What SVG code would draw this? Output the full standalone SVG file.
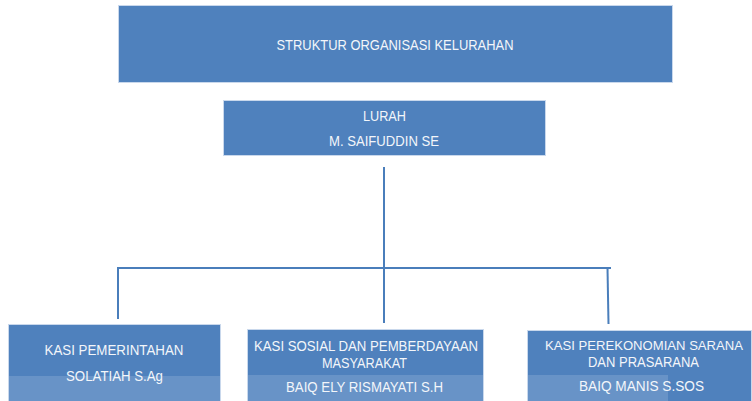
<svg xmlns="http://www.w3.org/2000/svg" width="752" height="401" viewBox="0 0 752 401">
<style>
.box{fill:#4F81BD;stroke:#C9D8EC;stroke-width:1}
.band{fill:#6893C7}
.t{font-family:"Liberation Sans",Arial,sans-serif;font-size:14px;fill:#F3F6FA;text-anchor:middle}
.c{stroke:#4A7EBB;stroke-width:2;fill:none}
</style>
<rect width="752" height="401" fill="#FFFFFF"/>
<g id="connectors">
<path class="c" d="M384 167 V323"/>
<path class="c" d="M118 319 V268 H611"/>
<path class="c" d="M607.5 268 L608.5 324"/>
</g>
<g id="title">
<rect class="box" x="118.5" y="5.5" width="554" height="77"/>
<text class="t" x="395" y="50" textLength="237" lengthAdjust="spacingAndGlyphs" style="font-size:14.5px">STRUKTUR ORGANISASI KELURAHAN</text>
</g>
<g id="lurah">
<rect class="box" x="223.5" y="100.5" width="322" height="55"/>
<text class="t" x="384.5" y="121" textLength="43" lengthAdjust="spacingAndGlyphs">LURAH</text>
<text class="t" x="384" y="145.5" textLength="110" lengthAdjust="spacingAndGlyphs">M. SAIFUDDIN SE</text>
</g>
<g id="kasi-pemerintahan">
<rect class="box" x="8.5" y="324.5" width="212" height="82"/>
<rect class="band" x="9" y="376" width="211" height="30"/>
<text class="t" x="114" y="355" textLength="139" lengthAdjust="spacingAndGlyphs">KASI PEMERINTAHAN</text>
<text class="t" x="114.5" y="381" textLength="97" lengthAdjust="spacingAndGlyphs">SOLATIAH S.Ag</text>
</g>
<g id="kasi-sosial">
<rect class="box" x="247.5" y="329.5" width="236" height="77"/>
<rect class="band" x="248" y="375" width="235" height="31"/>
<text class="t" x="366" y="351" textLength="224" lengthAdjust="spacingAndGlyphs">KASI SOSIAL DAN PEMBERDAYAAN</text>
<text class="t" x="364.5" y="368" textLength="85" lengthAdjust="spacingAndGlyphs">MASYARAKAT</text>
<text class="t" x="364.5" y="392" textLength="157" lengthAdjust="spacingAndGlyphs">BAIQ ELY RISMAYATI S.H</text>
</g>
<g id="kasi-perekonomian">
<rect class="box" x="527.5" y="330.5" width="224" height="76"/>
<rect class="band" x="528" y="375" width="140" height="31"/>
<text class="t" x="644" y="350" textLength="198" lengthAdjust="spacingAndGlyphs" style="font-size:12.8px">KASI PEREKONOMIAN SARANA</text>
<text class="t" x="643.5" y="367" textLength="111" lengthAdjust="spacingAndGlyphs">DAN PRASARANA</text>
<text class="t" x="641.5" y="391" textLength="125" lengthAdjust="spacingAndGlyphs">BAIQ MANIS S.SOS</text>
</g>
</svg>
